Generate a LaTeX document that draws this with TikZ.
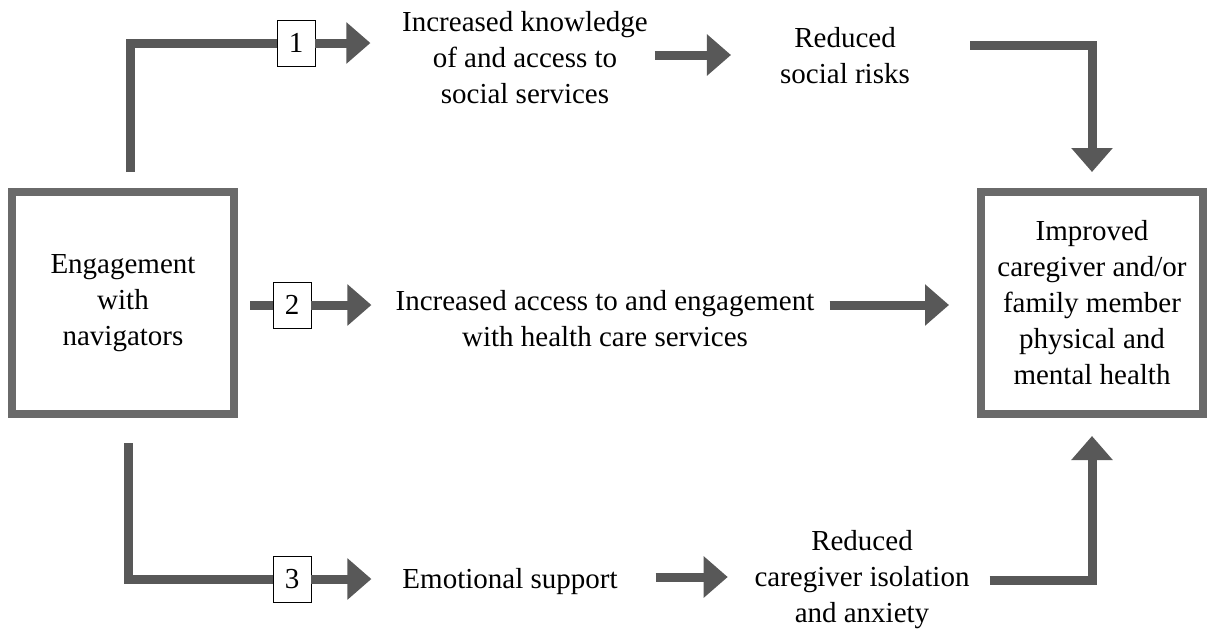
\documentclass[tikz,border=0pt]{standalone}
\usepackage{fontspec}
\setmainfont{Liberation Serif}
\usetikzlibrary{arrows.meta}
\definecolor{arrowgray}{RGB}{88,88,88}
\definecolor{boxgray}{RGB}{106,106,106}
\tikzset{
  bigbox/.style={draw=boxgray, line width=8pt, minimum width=222pt, minimum height=222pt, align=center, inner sep=0pt},
  numbox/.style={draw=black, line width=0.8pt, fill=white, minimum width=38pt, minimum height=46pt, inner sep=0pt},
  txt/.style={align=center, inner sep=0pt},
  shaft/.style={draw=arrowgray, line width=9pt},
  flow/.style={shaft, -{Triangle[width=40pt,length=24pt]}},
}
\begin{document}
\begin{tikzpicture}[x=1pt, y=-1pt, font=\fontsize{29}{36}\selectfont]
    \useasboundingbox (0,0) rectangle (1210,630);
    %boxes
    \node[bigbox] (engage) at (123,303) {Engagement\\with\\navigators};
    \node[bigbox] (improve) at (1092,303) {Improved\\caregiver and/or\\family member\\physical and\\mental health};
    %texts
    \node[txt] (know) at (525,58) {Increased knowledge\\of and access to\\social services};
    \node[txt] (risk) at (845,56) {Reduced\\social risks};
    \node[txt] (access) at (605,319) {Increased access to and engagement\\with health care services};
    \node[txt] (emot) at (510,582) {Emotional support};
    \node[txt] (isol) at (862,580) {Reduced\\caregiver isolation\\and anxiety};
    %numbers
    \node[numbox] (n1) at (296,43) {1};
    \node[numbox] (n2) at (292,305) {2};
    \node[numbox] (n3) at (292,579) {3};
    %paths
    \draw[shaft] ([xshift=7pt,yshift=16pt]engage.north) |- (n1.west);
    \draw[flow] (n1.east) -- ++(55,0);
    \draw[shaft] ([xshift=12pt]engage.east |- n2) -- (n2.west);
    \draw[flow] (n2.east) -- ++(60,0);
    \draw[shaft] ([xshift=5pt,yshift=-25pt]engage.south) |- (n3.west);
    \draw[flow] (n3.east) -- ++(60,0);
    \draw[flow] ([xshift=7pt,yshift=3pt]know.east) -- ++(76,0);
    \draw[flow] ([xshift=38pt,yshift=5pt]emot.east) -- ++(72,0);
    \draw[flow] ([xshift=15pt,yshift=14pt]access.east) -- ([xshift=-28pt,yshift=14pt]access.east -| improve.west);
    \draw[flow] ([xshift=60pt,yshift=11pt]risk.east) -| ([yshift=16pt]improve.north);
    \draw[flow] ([xshift=20pt]isol.east) -| ([yshift=-18pt]improve.south);
\end{tikzpicture}
\end{document}
